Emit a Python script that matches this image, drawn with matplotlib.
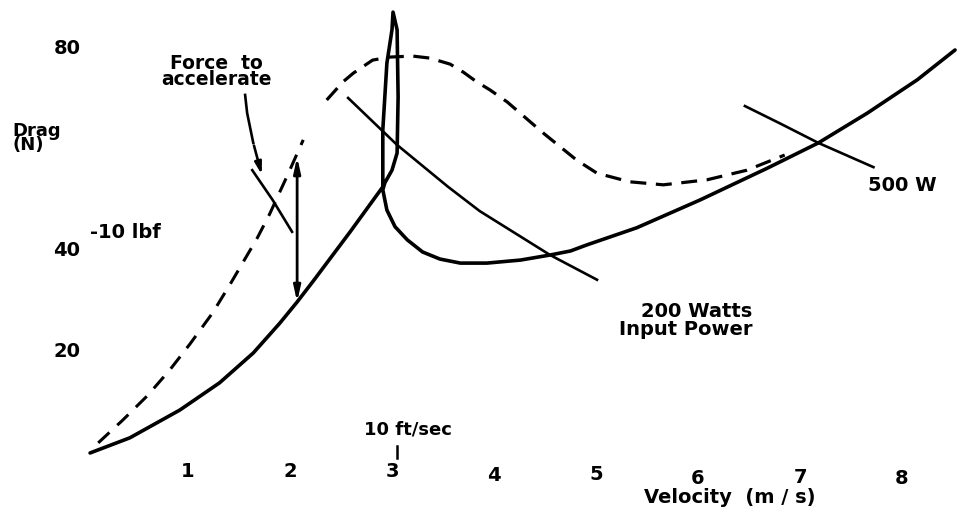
import matplotlib.pyplot as plt
import numpy as np

# drag curve (solid, heavy) - velocity m/s, drag N, hump spike near 3 m/s
drag_v = [0.04, 0.43, 0.92, 1.31, 1.64, 1.90, 2.07, 2.23, 2.59, 2.91,
          2.91, 2.95, 3.00, 3.01, 3.05, 3.06, 3.05, 3.00, 2.93,
          2.91, 2.95, 3.03, 3.15, 3.30, 3.47, 3.67, 3.93, 4.26, 4.55,
          4.75, 4.91, 5.40, 6.02, 6.68, 7.18, 7.66, 8.15, 8.52]
drag_n = [0.4, 3.4, 8.9, 14.3, 20.2, 26.1, 30.3, 34.5, 44.2, 53.1,
          64.4, 77.6, 84.2, 87.7, 84.2, 70.9, 59.8, 56.4, 53.9,
          52.5, 48.5, 45.2, 42.6, 40.2, 38.8, 38.0, 38.0, 38.6, 39.6,
          40.4, 41.6, 45.0, 50.5, 56.8, 61.8, 67.7, 74.3, 80.2]

# dashed curves (drag + force to accelerate)
dash_low_v = [0.12, 0.36, 0.60, 0.82, 1.02, 1.24, 1.41, 1.68, 1.80, 1.98, 2.13]
dash_low_n = [2.4, 6.9, 11.7, 16.8, 22.0, 28.1, 33.7, 43.0, 47.7, 55.6, 62.4]
dash_high_v = [2.36, 2.52, 2.62, 2.81, 2.98, 3.20, 3.37, 3.57, 3.70, 3.83,
               3.96, 4.13, 4.48, 4.81, 5.01, 5.33, 5.66, 6.09, 6.48, 6.85]
dash_high_n = [70.3, 73.9, 75.6, 78.2, 78.8, 79.0, 78.6, 77.4, 75.8, 73.9,
               72.3, 69.9, 63.8, 58.4, 55.8, 54.1, 53.5, 54.5, 56.4, 59.4]

# constant input power lines
p200_v = [2.57, 3.05, 3.55, 3.86, 4.55, 5.01]
p200_n = [70.7, 61.4, 53.1, 48.3, 39.6, 34.7]
p500_v = [6.46, 6.80, 7.18, 7.72]
p500_n = [69.1, 65.7, 61.8, 57.0]

# "force to accelerate" pointer and hatch
pointer_v = [1.56, 1.58, 1.64, 1.73]
pointer_n = [71.3, 67.7, 61.8, 55.0]
hatch_v = [1.63, 1.83, 2.02]
hatch_n = [56.4, 50.5, 44.2]
accel_v = 2.07
accel_lo, accel_hi = 30.3, 59.0

x_ticks = [1, 2, 3, 4, 5, 6, 7, 8]
x_tick_y = [-3.2, -3.2, -3.2, -4.0, -3.8, -4.6, -4.4, -4.6]
y_ticks = [80, 40, 20]
ft_sec = 3.048

fig = plt.figure(figsize=(9.63, 5.12), dpi=100)
ax = fig.add_axes([0, 0, 1, 1])
ax.set_xlim(-0.843, 8.598)
ax.set_ylim(-11.29, 90.1)
ax.axis('off')

font = dict(family='DejaVu Sans', weight='bold', color='black')

ax.plot(drag_v, drag_n, color='black', lw=2.6, solid_joinstyle='round', solid_capstyle='round')
ax.plot(dash_low_v, dash_low_n, color='black', lw=2.2, dashes=(5, 3.5))
ax.plot(dash_high_v, dash_high_n, color='black', lw=2.3, dashes=(5, 3))
ax.plot(p200_v, p200_n, color='black', lw=1.9)
ax.plot(p500_v, p500_n, color='black', lw=1.9)
ax.plot(pointer_v[:-1], pointer_n[:-1], color='black', lw=1.9)
ax.annotate('', xy=(pointer_v[-1], pointer_n[-1]), xytext=(pointer_v[-2], pointer_n[-2]),
            arrowprops=dict(arrowstyle='-|>,head_length=0.7,head_width=0.2', color='black', lw=1.9))
ax.plot(hatch_v, hatch_n, color='black', lw=1.9)
ax.annotate('', xy=(accel_v, accel_lo), xytext=(accel_v, accel_hi),
            arrowprops=dict(arrowstyle='<|-|>,head_length=0.9,head_width=0.2', color='black', lw=2.0,
                            shrinkA=0, shrinkB=0))
ax.plot([ft_sec, ft_sec], [-0.6, 1.8], color='black', lw=1.8)

for yv in y_ticks:
    ax.text(-0.186, yv + 0.5, str(yv), ha='center', va='center', fontsize=14, **font)
for xv, yy in zip(x_ticks, x_tick_y):
    ax.text(xv, yy, str(xv), ha='center', va='center', fontsize=14, **font)

ax.text(-0.725, 66.0, 'Drag\n(N)', ha='left', va='top', fontsize=13, linespacing=0.72, **font)
ax.text(0.04, 44.0, '-10 lbf', ha='left', va='center', fontsize=14, **font)
ax.text(1.28, 76.0, 'Force  to\naccelerate', ha='center', va='center', fontsize=13.5,
        linespacing=0.78, **font)
ax.text(3.16, 5.0, '10 ft/sec', ha='center', va='center', fontsize=13, **font)
ax.text(6.31, -8.5, 'Velocity  (m / s)', ha='center', va='center', fontsize=14, **font)
ax.text(6.53, 26.7, '200 Watts\nInput Power', ha='right', va='center', fontsize=14,
        multialignment='right', linespacing=0.95, **font)
ax.text(8.0, 53.3, '500 W', ha='center', va='center', fontsize=14, **font)

fig.savefig('out.png', dpi=100)
